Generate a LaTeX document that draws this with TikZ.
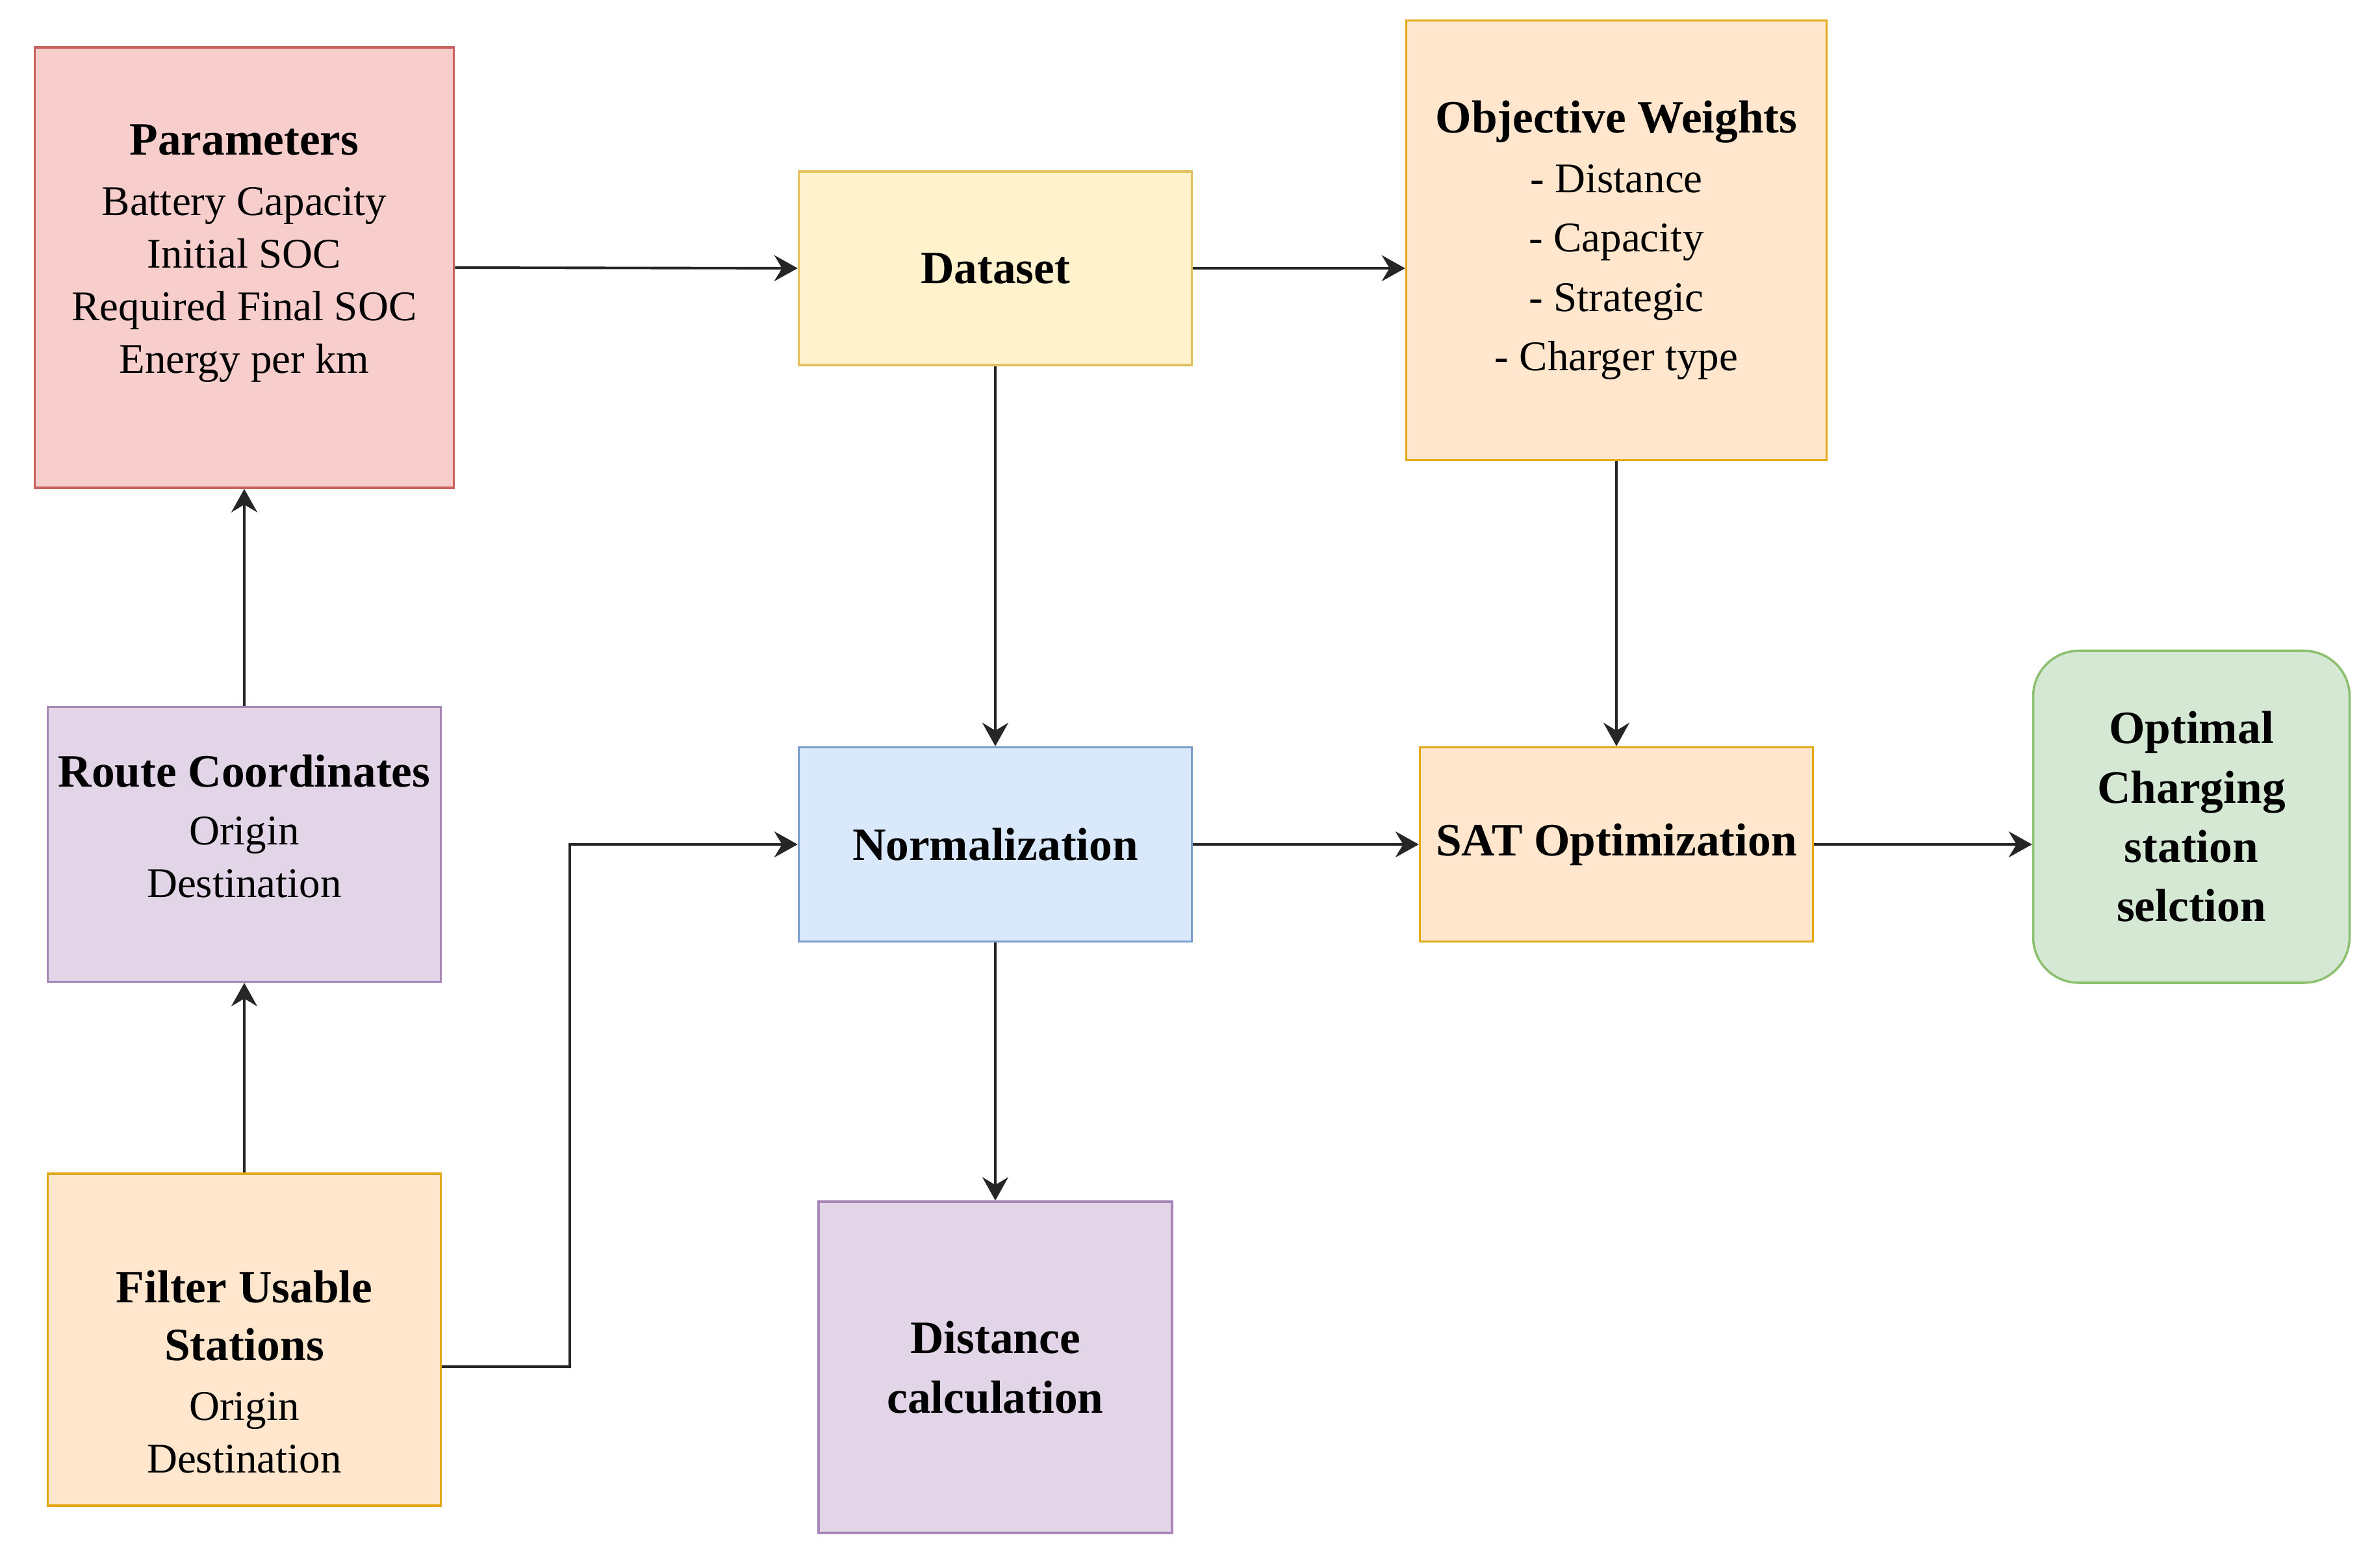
\documentclass[tikz,border=0pt]{standalone}
\usepackage{fontspec}
\setmainfont{Liberation Serif}
\usetikzlibrary{arrows.meta, positioning}
\definecolor{evRed}{HTML}{F8CECC}
\definecolor{evRedEdge}{HTML}{C8625C}
\definecolor{evYellow}{HTML}{FFF2CC}
\definecolor{evYellowEdge}{HTML}{E3C15C}
\definecolor{evOrange}{HTML}{FFE6CC}
\definecolor{evOrangeEdge}{HTML}{E3A815}
\definecolor{evPurple}{HTML}{E1D5E7}
\definecolor{evPurpleEdge}{HTML}{A886B8}
\definecolor{evBlue}{HTML}{DAE8FC}
\definecolor{evBlueEdge}{HTML}{7B9DCC}
\definecolor{evGreen}{HTML}{D5E8D4}
\definecolor{evGreenEdge}{HTML}{8CC06E}
\newcommand{\boxtitle}[1]{{\bfseries\fontsize{20.3}{26}\selectfont #1}}

\begin{document}
\begin{tikzpicture}[>={Stealth[length=3.6mm, width=4mm, inset=1.2mm]},
  box/.style={draw, line width=1pt, align=center, inner sep=2pt,
              font=\fontsize{18.5}{23}\selectfont},
  head/.style={box, font=\bfseries\fontsize{20.3}{26}\selectfont},
  flow/.style={->, line width=1.1pt, black!85}]
\useasboundingbox (0,0) rectangle (36.51,-24.14);
% ---- left column
\node[box, fill=evRed, draw=evRedEdge, minimum width=6.45cm, minimum height=6.78cm]
  (params) at (3.76,-4.12)
  {\boxtitle{Parameters}\\[3.4pt] Battery Capacity\\ Initial SOC\\ Required Final SOC\\ Energy per km\\[-6.6pt]\mbox{}};
\node[box, fill=evPurple, draw=evPurpleEdge, minimum width=6.05cm, minimum height=4.23cm]
  (route) at (3.76,-13.0)
  {\boxtitle{Route Coordinates}\\[2.4pt] Origin\\ Destination\\[-7pt]\mbox{}};
\node[box, fill=evOrange, draw=evOrangeEdge, minimum width=6.05cm, minimum height=5.11cm]
  (filter) at (3.76,-20.625)
  {\mbox{}\\[19.4pt]\boxtitle{Filter Usable}\\[2.1pt]\boxtitle{Stations}\\[3.4pt] Origin\\ Destination};
% ---- middle column
\node[head, fill=evYellow, draw=evYellowEdge, minimum width=6.05cm, minimum height=2.98cm]
  (dataset) at (15.32,-4.13) {Dataset};
\node[head, fill=evBlue, draw=evBlueEdge, minimum width=6.05cm, minimum height=2.99cm]
  (norm) at (15.32,-13.0) {Normalization};
\node[head, fill=evPurple, draw=evPurpleEdge, minimum width=5.44cm, minimum height=5.10cm]
  (dist) at (15.32,-21.05) {Distance\\ calculation};
% ---- right columns
\node[box, fill=evOrange, draw=evOrangeEdge, minimum width=6.47cm, minimum height=6.77cm,
  font=\fontsize{18.5}{26}\selectfont]
  (obj) at (24.88,-3.70)
  {\boxtitle{Objective Weights}\\ - Distance\\ - Capacity\\ - Strategic\\ - Charger type\\[-22pt]\mbox{}};
\node[head, fill=evOrange, draw=evOrangeEdge, minimum width=6.05cm, minimum height=2.99cm]
  (sat) at (24.88,-13.0) {SAT Optimization};
\node[head, fill=evGreen, draw=evGreenEdge, rounded corners=7mm,
  minimum width=4.87cm, minimum height=5.11cm]
  (optimal) at (33.73,-12.575) {Optimal\\ Charging\\ station\\ selction};
\coordinate (bend) at (8.77,-13.0);
% ---- connectors
\draw[flow] (params.east) -- (dataset.west);
\draw[flow] (dataset.east) -- (dataset.east -| obj.west);
\draw[flow] (dataset.south) -- (norm.north);
\draw[flow] (obj.south) -- (sat.north);
\draw[flow] (route.north) -- (params.south);
\draw[flow] (filter.north) -- (route.south);
\draw[flow] ([yshift=-4.15mm]filter.east) -| (bend) -- (norm.west);
\draw[flow] (norm.east) -- (sat.west);
\draw[flow] (sat.east) -- (sat.east -| optimal.west);
\draw[flow] (norm.south) -- (dist.north);
\end{tikzpicture}
\end{document}
